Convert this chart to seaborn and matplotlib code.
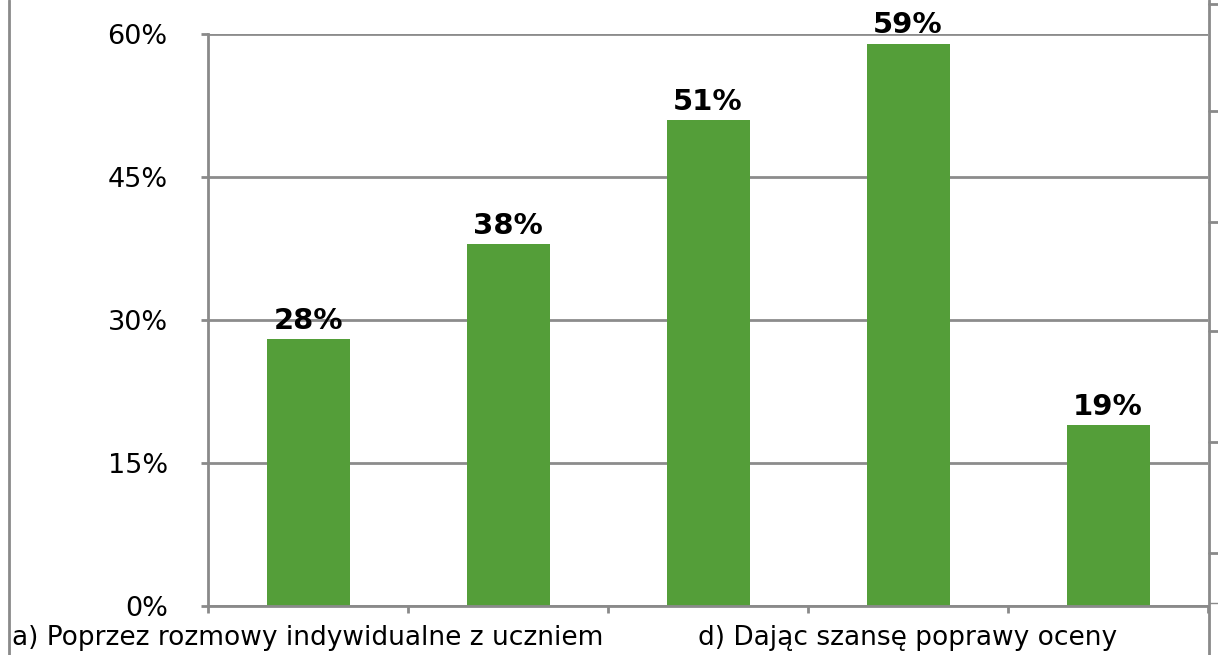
import matplotlib
matplotlib.use("Agg")
import matplotlib.pyplot as plt
import seaborn as sns
import pandas as pd
from matplotlib.lines import Line2D

categories = ["a) Poprzez rozmowy indywidualne z uczniem", "b)", "c)",
              "d) Dając szansę poprawy oceny", "e)"]
values = [28, 38, 51, 59, 19]
shown_labels = ["a) Poprzez rozmowy indywidualne z uczniem", "", "",
                "d) Dając szansę poprawy oceny", ""]
yticks = [0, 15, 30, 45, 60]

sns.set_theme(style="white")
plt.rcParams['font.family'] = ['DejaVu Sans']

W, H = 1218, 655
fig = plt.figure(figsize=(W / 100, H / 100), dpi=100)
ax = fig.add_axes([208 / W, 1 - 606 / H, 1000 / W, 572 / H])

df = pd.DataFrame({"cat": categories, "val": values})
sns.barplot(data=df, x="cat", y="val", color="#549E39", width=0.415,
            saturation=1, linewidth=0, ax=ax)

ax.set_ylim(0, 60)
ax.set_xlim(-0.5, 4.5)
ax.set_xlabel("")
ax.set_ylabel("")
ax.set_yticks(yticks)
ax.set_yticklabels([f"{v}%" for v in yticks])
ax.yaxis.grid(True, color="#8C8C8C", linewidth=2)
ax.xaxis.grid(False)
ax.set_axisbelow(True)

grey = "#8A8A8A"
for s in ["top", "right"]:
    ax.spines[s].set_visible(False)
for s in ["left", "bottom"]:
    ax.spines[s].set_color(grey)
    ax.spines[s].set_linewidth(2)

ax.tick_params(axis="y", which="major", left=True, length=5, width=2,
               color=grey, pad=24, labelsize=19.5, labelcolor="black")
ax.set_xticks(range(len(categories)))
ax.set_xticklabels(shown_labels)
ax.set_xticks([i - 0.5 for i in range(len(categories) + 1)], minor=True)
ax.tick_params(axis="x", which="major", bottom=False, length=0, pad=14,
               labelsize=19, labelcolor="black")
ax.tick_params(axis="x", which="minor", bottom=True, length=5, width=2,
               color=grey)

ax.bar_label(ax.containers[0], labels=[f"{v}%" for v in values], padding=3,
             fontsize=21, fontweight="bold", color="black")

# chart-area borders
fig.add_artist(Line2D([8.5 / W, 8.5 / W], [0, 1], color=grey, lw=2))
fig.add_artist(Line2D([1208.5 / W, 1208.5 / W], [0, 1], color=grey, lw=2))
for yy in [4, 111, 222, 331, 442, 553]:
    fig.add_artist(Line2D([1209 / W, 1218 / W], [1 - yy / H, 1 - yy / H],
                          color=grey, lw=2))
fig.add_artist(Line2D([1209 / W, 1218 / W], [1 - 603 / H, 1 - 603 / H],
                      color=grey, lw=1))

fig.savefig("out.png", dpi=100)
